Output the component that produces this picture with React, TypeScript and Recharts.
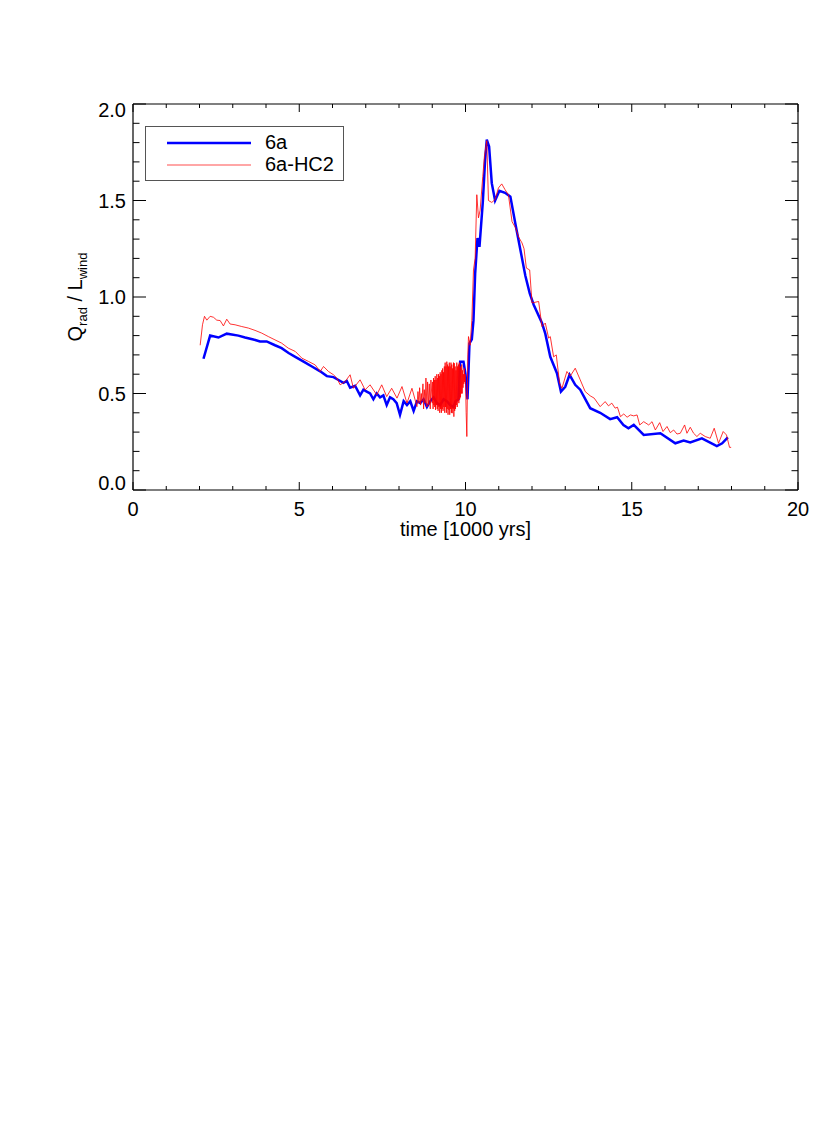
import * as React from "react";
import { LineChart, Line, XAxis, YAxis, Legend, Label } from "recharts";

// run 6a (thick blue)
const time6a = [
  2.12, 2.32, 2.57, 2.82, 3.17, 3.37, 3.62, 3.82, 4.02, 4.27, 4.47, 4.68, 4.88,
  5.13, 5.38, 5.63, 5.83, 6.03, 6.18, 6.33, 6.43, 6.53, 6.68, 6.83, 6.93, 7.03,
  7.13, 7.23, 7.33, 7.43, 7.53, 7.63, 7.73, 7.83, 7.93, 8.03, 8.14, 8.24, 8.34,
  8.44, 8.54, 8.64, 8.74, 8.84, 8.94, 9.04, 9.14, 9.24, 9.34, 9.44, 9.54, 9.64,
  9.7, 9.79, 9.84, 9.94, 10.0, 10.06, 10.12, 10.19, 10.24, 10.29, 10.36, 10.42,
  10.52, 10.59, 10.64, 10.71, 10.79, 10.89, 11.02, 11.19, 11.35, 11.5, 11.65,
  11.8, 11.93, 12.05, 12.3, 12.4, 12.55, 12.75, 12.87, 13.0, 13.13, 13.3, 13.45,
  13.75, 14.05, 14.35, 14.56, 14.75, 14.9, 15.06, 15.36, 15.86, 16.31, 16.56,
  16.76, 17.11, 17.56, 17.72, 17.89,
];
const ratio6a = [
  0.68, 0.8, 0.79, 0.81, 0.8, 0.79, 0.78, 0.77, 0.77, 0.75, 0.735, 0.71, 0.69,
  0.665, 0.64, 0.615, 0.59, 0.585, 0.57, 0.555, 0.565, 0.53, 0.54, 0.49, 0.52,
  0.51, 0.5, 0.47, 0.5, 0.48, 0.49, 0.44, 0.48, 0.47, 0.45, 0.39, 0.46, 0.44,
  0.46, 0.41, 0.46, 0.45, 0.47, 0.43, 0.46, 0.48, 0.45, 0.44, 0.47, 0.46, 0.44,
  0.43, 0.46, 0.47, 0.665, 0.665, 0.6, 0.47, 0.76, 0.78, 0.88, 1.12, 1.305, 1.26,
  1.49, 1.71, 1.815, 1.78, 1.59, 1.5, 1.55, 1.54, 1.52, 1.38, 1.245, 1.11, 1.02,
  0.96, 0.865, 0.81, 0.69, 0.605, 0.51, 0.535, 0.597, 0.545, 0.52, 0.424, 0.4,
  0.367, 0.377, 0.337, 0.32, 0.337, 0.285, 0.294, 0.242, 0.256, 0.246, 0.268,
  0.228, 0.242, 0.273,
];

// run 6a-HC2 (thin red)
const timeHC2 = [
  2.02, 2.09, 2.15, 2.22, 2.32, 2.42, 2.52, 2.62, 2.72, 2.82, 2.92, 3.07, 3.27,
  3.47, 3.67, 3.87, 4.07, 4.27, 4.47, 4.67, 4.88, 5.08, 5.28, 5.48, 5.63, 5.73,
  5.88, 6.03, 6.13, 6.23, 6.38, 6.53, 6.63, 6.83, 6.98, 7.13, 7.33, 7.48, 7.63,
  7.78, 7.94, 8.09, 8.24, 8.39,
  8.54, 8.57, 8.6, 8.62, 8.65, 8.67, 8.69, 8.72, 8.74, 8.76,
  8.79, 8.81, 8.84, 8.86, 8.89, 8.91, 8.94, 8.96,
  9.0, 9.013, 9.025, 9.038, 9.05, 9.063, 9.075, 9.088,
  9.1, 9.113, 9.125, 9.138, 9.15, 9.163, 9.175, 9.188,
  9.2, 9.213, 9.225, 9.238, 9.25, 9.263, 9.275, 9.288,
  9.3, 9.313, 9.325, 9.338, 9.35, 9.363, 9.375, 9.388,
  9.4, 9.413, 9.425, 9.438, 9.45, 9.463, 9.475, 9.488,
  9.5, 9.513, 9.525, 9.538, 9.55, 9.563, 9.575, 9.588,
  9.6, 9.613, 9.625, 9.638, 9.65, 9.663, 9.675, 9.688,
  9.7, 9.713, 9.725, 9.738, 9.75, 9.763, 9.775, 9.788,
  9.8, 9.813, 9.825, 9.838, 9.85, 9.863, 9.875, 9.888,
  9.9, 9.913, 9.925, 9.938, 9.95, 9.963, 9.975, 9.988,
  10.0, 10.02, 10.04,
  10.07, 10.09, 10.14, 10.19, 10.24, 10.29, 10.34, 10.39, 10.44, 10.52, 10.57,
  10.64, 10.69, 10.79, 10.89, 10.99, 11.09, 11.19, 11.29, 11.4, 11.5, 11.6,
  11.7, 11.76, 11.83, 11.93, 12.0, 12.2, 12.3, 12.4, 12.5, 12.55, 12.65, 12.73,
  12.83, 12.9, 13.05, 13.15, 13.3, 13.45, 13.6, 13.75, 13.87, 14.05, 14.2,
  14.3, 14.4, 14.5, 14.57, 14.66, 14.76, 14.86, 14.96, 15.06, 15.16, 15.24,
  15.36, 15.51, 15.61, 15.71, 15.84, 15.94, 16.06, 16.16, 16.26, 16.36, 16.46,
  16.59, 16.66, 16.76, 16.86, 16.96, 17.06, 17.21, 17.36, 17.48, 17.61, 17.75,
  17.85, 17.94, 17.99,
];
const ratioHC2 = [
  0.75, 0.856, 0.9, 0.88, 0.9, 0.895, 0.88, 0.878, 0.85, 0.885, 0.86, 0.856,
  0.847, 0.839, 0.827, 0.813, 0.795, 0.778, 0.761, 0.735, 0.718, 0.683, 0.666,
  0.648, 0.614, 0.64, 0.614, 0.597, 0.58, 0.545, 0.562, 0.597, 0.527, 0.571,
  0.519, 0.545, 0.493, 0.545, 0.484, 0.527, 0.476, 0.536, 0.45, 0.527,
  0.432, 0.51, 0.45, 0.53, 0.44, 0.5, 0.46, 0.55, 0.42, 0.52,
  0.45, 0.58, 0.43, 0.56, 0.44, 0.55, 0.42, 0.57,
  0.45, 0.56, 0.42, 0.58, 0.44, 0.57, 0.43, 0.59,
  0.415, 0.57, 0.44, 0.6, 0.42, 0.58, 0.41, 0.6,
  0.43, 0.59, 0.4, 0.61, 0.42, 0.6, 0.4, 0.62,
  0.42, 0.63, 0.41, 0.61, 0.43, 0.64, 0.4, 0.66,
  0.43, 0.64, 0.4, 0.665, 0.42, 0.65, 0.39, 0.64,
  0.415, 0.66, 0.39, 0.64, 0.42, 0.66, 0.4, 0.65,
  0.398, 0.63, 0.42, 0.66, 0.38, 0.657, 0.41, 0.64,
  0.42, 0.62, 0.44, 0.66, 0.43, 0.64, 0.46, 0.65,
  0.45, 0.66, 0.47, 0.64, 0.48, 0.63, 0.5, 0.65,
  0.5, 0.62, 0.53, 0.6, 0.55, 0.63, 0.56, 0.6,
  0.56, 0.4, 0.277,
  0.7, 0.795, 0.75, 0.88, 1.14, 1.2, 1.53, 1.41, 1.45, 1.625, 1.73,
  1.81, 1.5, 1.49, 1.505, 1.565, 1.586, 1.556, 1.53, 1.39, 1.36, 1.31,
  1.28, 1.25, 1.15, 1.14, 0.969, 0.977, 0.847, 0.865, 0.787, 0.795, 0.69, 0.7,
  0.553, 0.527, 0.614, 0.59, 0.631, 0.571, 0.51, 0.488, 0.476, 0.432, 0.458,
  0.436, 0.45, 0.424, 0.429, 0.38, 0.394, 0.377, 0.389, 0.384, 0.389, 0.337,
  0.354, 0.337, 0.354, 0.311, 0.349, 0.303, 0.329, 0.297, 0.311, 0.29, 0.294,
  0.337, 0.294, 0.325, 0.294, 0.277, 0.294, 0.277, 0.268, 0.32, 0.242, 0.303,
  0.285, 0.221, 0.221,
];

const xTicks = [
  0, 1, 2, 3, 4, 5, 6, 7, 8, 9, 10, 11, 12, 13, 14, 15, 16, 17, 18, 19, 20,
];
const yTicks = [
  0, 0.1, 0.2, 0.3, 0.4, 0.5, 0.6, 0.7, 0.8, 0.9, 1.0, 1.1, 1.2, 1.3, 1.4, 1.5,
  1.6, 1.7, 1.8, 1.9, 2.0,
];

const data6a = time6a.map((t, i) => ({ t, v: ratio6a[i] }));
const dataHC2 = timeHC2.map((t, i) => ({ t, v: ratioHC2[i] }));

const FONT = "'Liberation Sans', Arial, Helvetica, sans-serif";
const isMajorX = (v: number) => v % 5 === 0;
const isMajorY = (v: number) => Math.abs(v * 2 - Math.round(v * 2)) < 1e-6;

const BottomTick = (p: any) => {
  const { x, y, payload } = p;
  const major = isMajorX(payload.value);
  return (
    <g>
      <line x1={x} x2={x} y1={y} y2={y - (major ? 8 : 4)} stroke="#000" />
      {major && (
        <text x={x} y={y + 26} textAnchor="middle" fontSize={20} fontFamily={FONT} fill="#000">
          {payload.value}
        </text>
      )}
    </g>
  );
};

const TopTick = (p: any) => {
  const { x, y, payload } = p;
  const major = isMajorX(payload.value);
  return <line x1={x} x2={x} y1={y} y2={y + (major ? 8 : 4)} stroke="#000" />;
};

const LeftTick = (p: any) => {
  const { x, y, payload } = p;
  const v = payload.value;
  const major = isMajorY(v);
  // end labels sit inside the frame, like the original
  let dy = 7;
  if (v === 0) dy = 0;
  if (v === 2) dy = 13;
  return (
    <g>
      <line x1={x} x2={x + (major ? 13 : 6.5)} y1={y} y2={y} stroke="#000" />
      {major && (
        <text x={x - 7} y={y + dy} textAnchor="end" fontSize={20} fontFamily={FONT} fill="#000">
          {v.toFixed(1)}
        </text>
      )}
    </g>
  );
};

const RightTick = (p: any) => {
  const { x, y, payload } = p;
  const major = isMajorY(payload.value);
  return <line x1={x} x2={x - (major ? 13 : 6.5)} y1={y} y2={y} stroke="#000" />;
};

const LegendBox = () => (
  <div
    style={{
      border: "1px solid #555",
      width: 197,
      height: 53,
      background: "#fff",
      position: "relative",
    }}
  >
    <svg width={197} height={53} style={{ position: "absolute", left: 0, top: 0 }}>
      <line x1={21} x2={105} y1={16} y2={16} stroke="#0000ff" strokeWidth={2.5} />
      <line x1={21} x2={105} y1={38} y2={38} stroke="#ff0000" strokeWidth={0.7} />
      <text x={119} y={22} fontSize={20} fontFamily={FONT}>6a</text>
      <text x={119} y={44} fontSize={20} fontFamily={FONT}>6a-HC2</text>
    </svg>
  </div>
);

export default function App() {
  return (
    <div style={{ position: "relative", width: 822, height: 540 }}>
      <LineChart
        width={822}
        height={540}
        margin={{ top: 95, right: 31, bottom: 8, left: 85 }}
        style={{ fontFamily: FONT }}
      >
        <XAxis
          dataKey="t"
          type="number"
          domain={[0, 20]}
          ticks={xTicks}
          interval={0}
          height={50}
          tickSize={0}
          tickMargin={0}
          tick={<BottomTick />}
          axisLine={{ stroke: "#000", strokeWidth: 1.2 }}
          allowDataOverflow
        >
          <Label
            content={(props: any) => {
              const vb = props.viewBox || { x: 125, y: 482, width: 665, height: 50 };
              return (
                <text
                  x={vb.x + vb.width / 2}
                  y={vb.y + 46}
                  textAnchor="middle"
                  fontSize={20}
                  fontFamily={FONT}
                  fill="#000"
                >
                  time [1000 yrs]
                </text>
              );
            }}
          />
        </XAxis>
        <XAxis
          xAxisId="top"
          orientation="top"
          dataKey="t"
          type="number"
          domain={[0, 20]}
          ticks={xTicks}
          interval={0}
          height={1}
          tickSize={0}
          tickMargin={0}
          tick={<TopTick />}
          axisLine={{ stroke: "#000", strokeWidth: 1.2 }}
          allowDataOverflow
        />
        <YAxis
          type="number"
          domain={[0, 2]}
          ticks={yTicks}
          interval={0}
          width={40}
          tickSize={0}
          tickMargin={0}
          tick={<LeftTick />}
          axisLine={{ stroke: "#000", strokeWidth: 1.2 }}
          allowDataOverflow
        >
          <Label
            content={(props: any) => {
              const vb = props.viewBox || { x: 85, y: 96, width: 40, height: 386 };
              const cx = vb.x - 11;
              const cy = vb.y + vb.height / 2;
              return (
                <text
                  transform={`translate(${cx},${cy}) rotate(-90)`}
                  textAnchor="middle"
                  fontSize={20}
                  fontFamily={FONT}
                  fill="#000"
                >
                  Q<tspan fontSize={13} dy={5}>rad</tspan>
                  <tspan dy={-5}> / L</tspan>
                  <tspan fontSize={13} dy={5}>wind</tspan>
                </text>
              );
            }}
          />
        </YAxis>
        <YAxis
          yAxisId="right"
          orientation="right"
          type="number"
          domain={[0, 2]}
          ticks={yTicks}
          interval={0}
          width={1}
          tickSize={0}
          tickMargin={0}
          tick={<RightTick />}
          axisLine={{ stroke: "#000", strokeWidth: 1.2 }}
          allowDataOverflow
        />
        <Legend
          layout="vertical"
          align="center"
          verticalAlign="middle"
          content={() => <LegendBox />}
          wrapperStyle={{ position: "absolute", left: 137, top: 118, width: 199, height: 55 }}
        />
        <Line
          data={data6a}
          dataKey="v"
          type="linear"
          dot={false}
          stroke="#0000ff"
          strokeWidth={2.5}
          isAnimationActive={false}
        />
        <Line
          data={dataHC2}
          dataKey="v"
          xAxisId="top"
          yAxisId="right"
          type="linear"
          dot={false}
          stroke="#ff0000"
          strokeWidth={0.8}
          isAnimationActive={false}
        />
      </LineChart>
    </div>
  );
}
